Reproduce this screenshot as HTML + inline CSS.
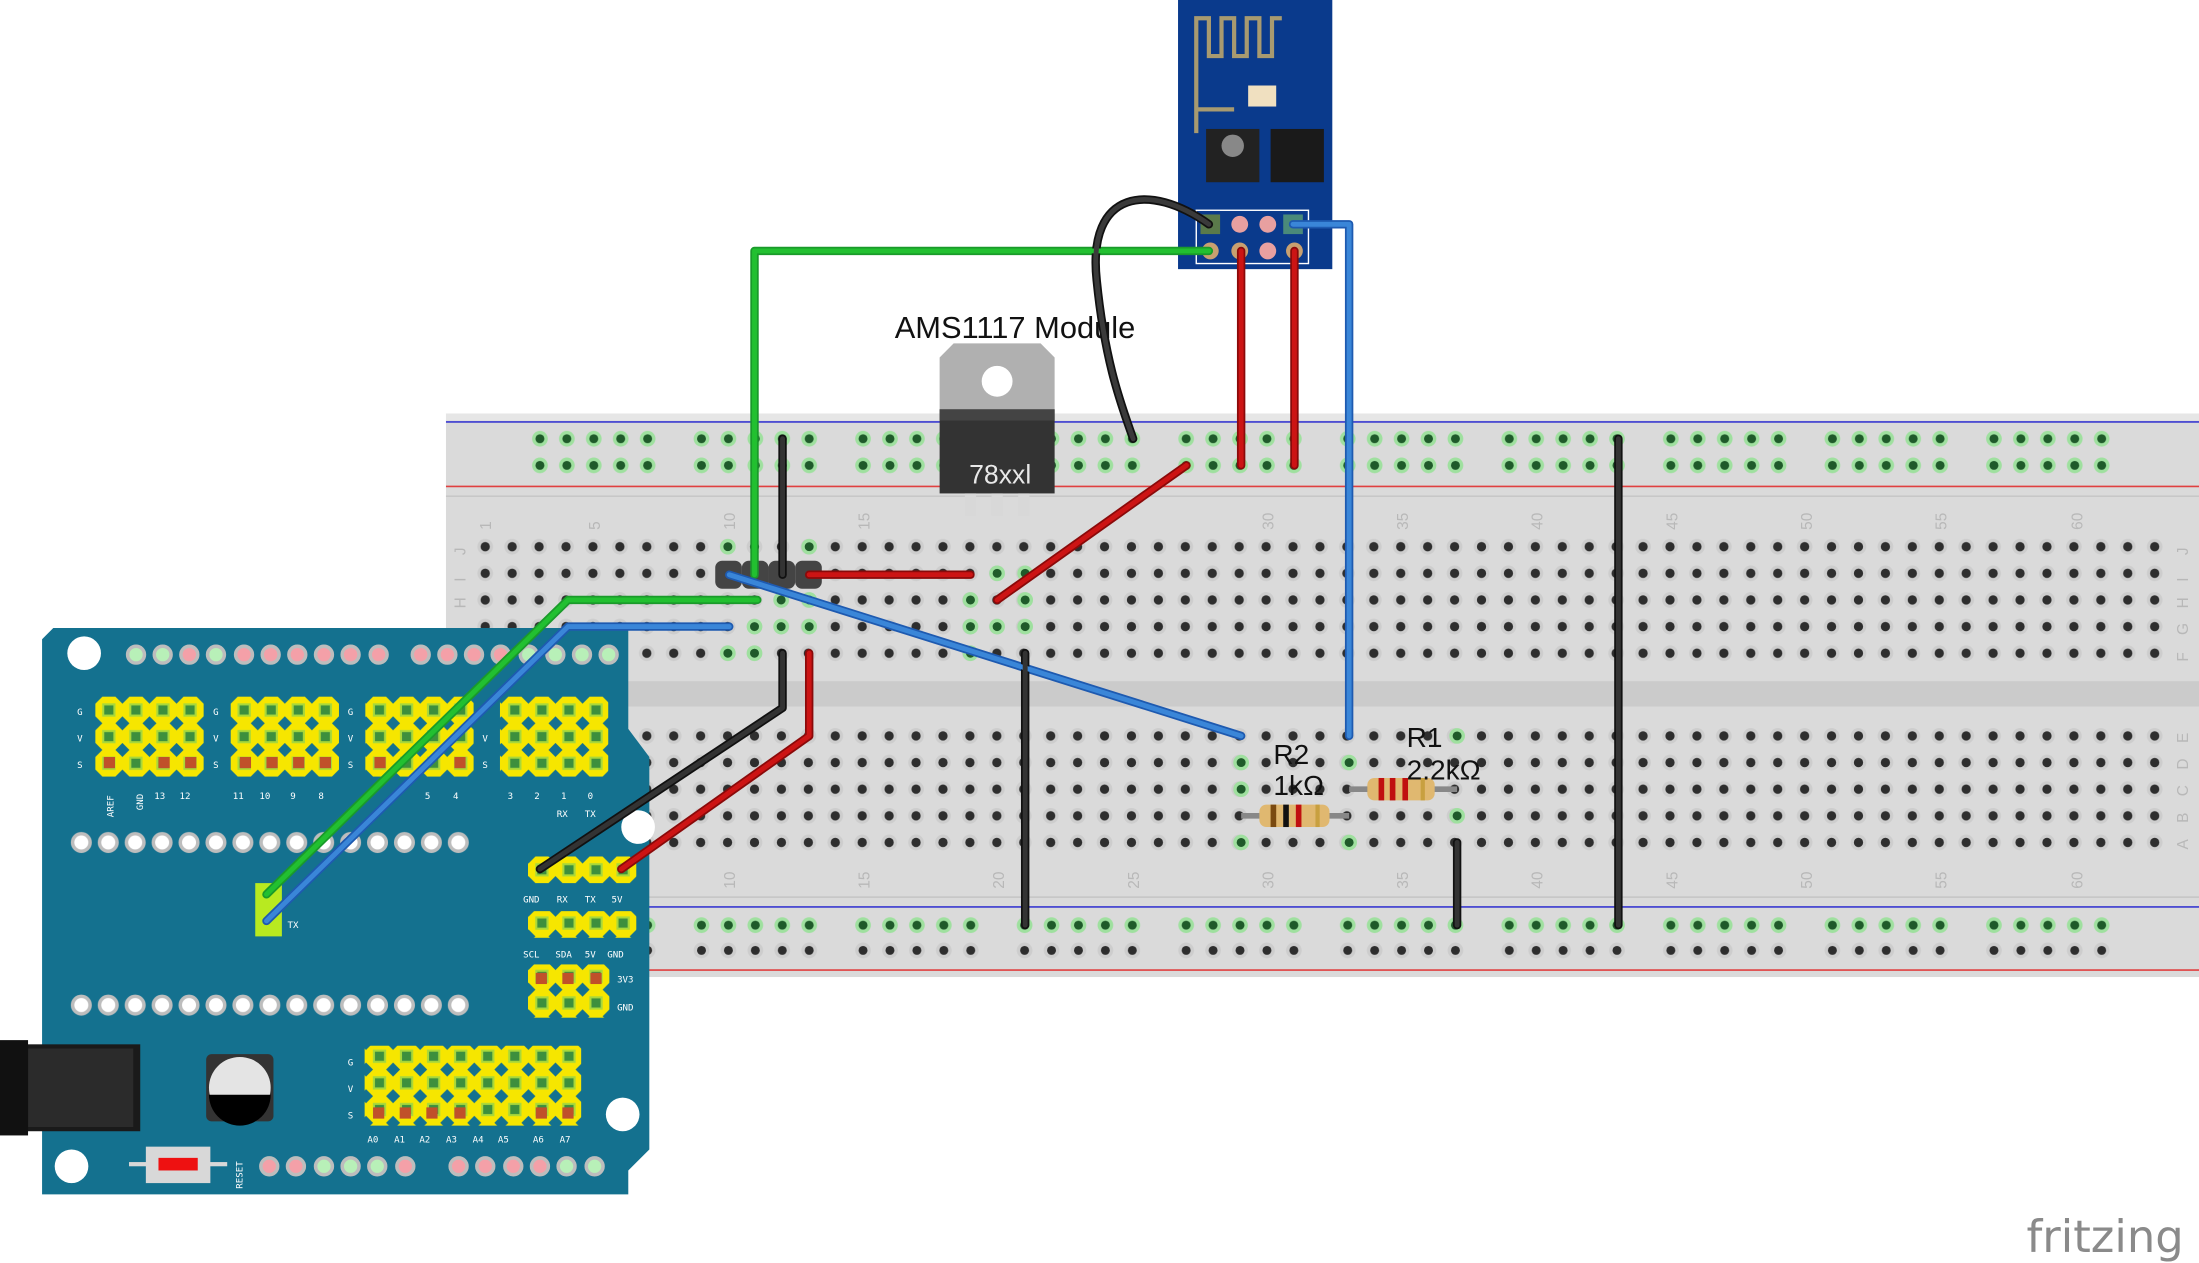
<!DOCTYPE html>
<html><head><meta charset="utf-8"><style>html,body{margin:0;padding:0;background:#fff;overflow:hidden}svg{display:block}</style></head>
<body>
<svg width="2199" height="1263" viewBox="0 0 1568 901" preserveAspectRatio="none" xmlns="http://www.w3.org/2000/svg" font-family="Liberation Sans, sans-serif">
<defs>
<pattern id="h" x="336.4" y="380.5" width="19.2" height="19" patternUnits="userSpaceOnUse">
<circle cx="9.6" cy="9.5" r="5.6" fill="#cdcdcd"/><circle cx="9.6" cy="9.5" r="3.3" fill="#2e2e2e"/></pattern>
<pattern id="hb" x="336.4" y="515.5" width="19.2" height="19" patternUnits="userSpaceOnUse">
<circle cx="9.6" cy="9.5" r="5.6" fill="#cdcdcd"/><circle cx="9.6" cy="9.5" r="3.3" fill="#2e2e2e"/></pattern>
<pattern id="rg" x="375.4" y="303.5" width="115.2" height="19" patternUnits="userSpaceOnUse">
<g fill="#9fe09f"><circle cx="9.6" cy="9.5" r="5.6"/><circle cx="28.8" cy="9.5" r="5.6"/><circle cx="48" cy="9.5" r="5.6"/><circle cx="67.2" cy="9.5" r="5.6"/><circle cx="86.4" cy="9.5" r="5.6"/></g>
<g fill="#1f5a2a"><circle cx="9.6" cy="9.5" r="3.2"/><circle cx="28.8" cy="9.5" r="3.2"/><circle cx="48" cy="9.5" r="3.2"/><circle cx="67.2" cy="9.5" r="3.2"/><circle cx="86.4" cy="9.5" r="3.2"/></g></pattern>
<pattern id="rk" x="375.4" y="668.5" width="115.2" height="19" patternUnits="userSpaceOnUse">
<g fill="#cdcdcd"><circle cx="9.6" cy="9.5" r="5.6"/><circle cx="28.8" cy="9.5" r="5.6"/><circle cx="48" cy="9.5" r="5.6"/><circle cx="67.2" cy="9.5" r="5.6"/><circle cx="86.4" cy="9.5" r="5.6"/></g>
<g fill="#2e2e2e"><circle cx="9.6" cy="9.5" r="3.2"/><circle cx="28.8" cy="9.5" r="3.2"/><circle cx="48" cy="9.5" r="3.2"/><circle cx="67.2" cy="9.5" r="3.2"/><circle cx="86.4" cy="9.5" r="3.2"/></g></pattern>
<pattern id="rg2" x="375.4" y="650.5" width="115.2" height="19" patternUnits="userSpaceOnUse">
<g fill="#9fe09f"><circle cx="9.6" cy="9.5" r="5.6"/><circle cx="28.8" cy="9.5" r="5.6"/><circle cx="48" cy="9.5" r="5.6"/><circle cx="67.2" cy="9.5" r="5.6"/><circle cx="86.4" cy="9.5" r="5.6"/></g>
<g fill="#1f5a2a"><circle cx="9.6" cy="9.5" r="3.2"/><circle cx="28.8" cy="9.5" r="3.2"/><circle cx="48" cy="9.5" r="3.2"/><circle cx="67.2" cy="9.5" r="3.2"/><circle cx="86.4" cy="9.5" r="3.2"/></g></pattern>
<pattern id="y" width="19.3" height="19" patternUnits="userSpaceOnUse" x="68" y="497">
<polygon points="5,0 14.3,0 19.3,5 19.3,14 14.3,19 5,19 0,14 0,5" fill="#f6e600"/><rect x="5.6" y="5.5" width="8" height="8" fill="#3d8f3d" stroke="#a8d83a" stroke-width="1.5"/></pattern>
<pattern id="pw" width="19.2" height="20" patternUnits="userSpaceOnUse" x="48.4" y="591">
<circle cx="9.6" cy="10" r="7.5" fill="#bdbdbd"/><circle cx="9.6" cy="10" r="5" fill="#fff"/></pattern>
<pattern id="pw2" width="19.2" height="20" patternUnits="userSpaceOnUse" x="48.4" y="707">
<circle cx="9.6" cy="10" r="7.5" fill="#bdbdbd"/><circle cx="9.6" cy="10" r="5" fill="#fff"/></pattern>
</defs>

<rect x="318" y="295" width="1250" height="402" fill="#dadada"/>
<rect x="318" y="295" width="1250" height="5" fill="#e6e6e6"/>
<line x1="318" y1="301" x2="1568" y2="301" stroke="#3a3ad0" stroke-width="1.2"/>
<line x1="318" y1="347" x2="1568" y2="347" stroke="#e04040" stroke-width="1.2"/>
<line x1="318" y1="354" x2="1568" y2="354" stroke="#c4c4c4" stroke-width="1"/>
<rect x="318" y="486" width="1250" height="18" fill="#cbcbcb"/>
<line x1="318" y1="640" x2="1568" y2="640" stroke="#c4c4c4" stroke-width="1"/>
<line x1="318" y1="647" x2="1568" y2="647" stroke="#3a3ad0" stroke-width="1.2"/>
<line x1="318" y1="692" x2="1568" y2="692" stroke="#e04040" stroke-width="1.2"/>
<rect x="375" y="303.5" width="1135" height="38" fill="url(#rg)"/>
<rect x="375" y="650.5" width="1135" height="19" fill="url(#rg2)"/>
<rect x="375" y="668.5" width="1135" height="19" fill="url(#rk)"/>
<rect x="336.4" y="380.5" width="1209.6" height="95" fill="url(#h)"/>
<rect x="336.4" y="515.5" width="1209.6" height="95" fill="url(#hb)"/>
<g fill="#b8b8b8" font-size="11">
<text transform="translate(350,378) rotate(-90)">1</text><text transform="translate(428,378) rotate(-90)">5</text>
<text transform="translate(524,378) rotate(-90)">10</text><text transform="translate(620,378) rotate(-90)">15</text>
<text transform="translate(908,378) rotate(-90)">30</text><text transform="translate(1004,378) rotate(-90)">35</text>
<text transform="translate(1100,378) rotate(-90)">40</text><text transform="translate(1196,378) rotate(-90)">45</text>
<text transform="translate(1292,378) rotate(-90)">50</text><text transform="translate(1388,378) rotate(-90)">55</text>
<text transform="translate(1485,378) rotate(-90)">60</text>
<text transform="translate(524,634) rotate(-90)">10</text><text transform="translate(620,634) rotate(-90)">15</text>
<text transform="translate(716,634) rotate(-90)">20</text><text transform="translate(812,634) rotate(-90)">25</text>
<text transform="translate(908,634) rotate(-90)">30</text><text transform="translate(1004,634) rotate(-90)">35</text>
<text transform="translate(1100,634) rotate(-90)">40</text><text transform="translate(1196,634) rotate(-90)">45</text>
<text transform="translate(1292,634) rotate(-90)">50</text><text transform="translate(1388,634) rotate(-90)">55</text>
<text transform="translate(1485,634) rotate(-90)">60</text>
<text transform="translate(1560,530) rotate(-90)">E</text><text transform="translate(1560,549) rotate(-90)">D</text>
<text transform="translate(1560,568) rotate(-90)">C</text><text transform="translate(1560,587) rotate(-90)">B</text>
<text transform="translate(1560,606) rotate(-90)">A</text>
<text transform="translate(1560,396) rotate(-90)">J</text><text transform="translate(1560,415) rotate(-90)">I</text>
<text transform="translate(1560,434) rotate(-90)">H</text><text transform="translate(1560,453) rotate(-90)">G</text>
<text transform="translate(1560,472) rotate(-90)">F</text>
<text transform="translate(332,396) rotate(-90)">J</text><text transform="translate(332,415) rotate(-90)">I</text><text transform="translate(332,434) rotate(-90)">H</text>
</g>
<g fill="#1f5a2a" stroke="#9fe09f" stroke-width="2.4">
<circle cx="519" cy="390" r="4.4"/><circle cx="538" cy="447" r="4.4"/><circle cx="557" cy="447" r="4.4"/><circle cx="577" cy="447" r="4.4"/><circle cx="519" cy="466" r="4.4"/><circle cx="538" cy="466" r="4.4"/><circle cx="557" cy="428" r="4.4"/><circle cx="577" cy="390" r="4.4"/><circle cx="577" cy="428" r="4.4"/>
<circle cx="692" cy="428" r="4.4"/><circle cx="692" cy="447" r="4.4"/><circle cx="711" cy="409" r="4.4"/><circle cx="711" cy="447" r="4.4"/><circle cx="731" cy="409" r="4.4"/><circle cx="731" cy="428" r="4.4"/><circle cx="731" cy="447" r="4.4"/><circle cx="692" cy="466" r="4.4"/>
<circle cx="885" cy="544" r="4.4"/><circle cx="885" cy="563" r="4.4"/><circle cx="885" cy="601" r="4.4"/>
<circle cx="962" cy="544" r="4.4"/><circle cx="962" cy="601" r="4.4"/>
<circle cx="1039" cy="525" r="4.4"/><circle cx="1039" cy="582" r="4.4"/>
</g>

<path d="M38,448 H448 V520 L463,540 V820 L448,835 V852 H30 V456 Z" fill="#14718f"/>
<circle cx="60" cy="466" r="12" fill="#fff"/><circle cx="51" cy="832" r="12" fill="#fff"/>
<circle cx="444" cy="795" r="12" fill="#fff"/><circle cx="455" cy="590" r="12" fill="#fff"/>
<g stroke="#bdbdbd" stroke-width="2.5">
<circle cx="97" cy="467" r="6" fill="#b8f0b8"/><circle cx="116" cy="467" r="6" fill="#b8f0b8"/><circle cx="135" cy="467" r="6" fill="#f4a0a8"/><circle cx="154" cy="467" r="6" fill="#b8f0b8"/>
<circle cx="174" cy="467" r="6" fill="#f4a0a8"/><circle cx="193" cy="467" r="6" fill="#f4a0a8"/><circle cx="212" cy="467" r="6" fill="#f4a0a8"/><circle cx="231" cy="467" r="6" fill="#f4a0a8"/><circle cx="250" cy="467" r="6" fill="#f4a0a8"/><circle cx="270" cy="467" r="6" fill="#f4a0a8"/>
<circle cx="300" cy="467" r="6" fill="#f4a0a8"/><circle cx="319" cy="467" r="6" fill="#f4a0a8"/><circle cx="338" cy="467" r="6" fill="#f4a0a8"/><circle cx="357" cy="467" r="6" fill="#f4a0a8"/><circle cx="377" cy="467" r="6" fill="#b8f0b8"/><circle cx="396" cy="467" r="6" fill="#b8f0b8"/><circle cx="415" cy="467" r="6" fill="#b8f0b8"/><circle cx="434" cy="467" r="6" fill="#b8f0b8"/>
<circle cx="192" cy="832" r="6" fill="#f4a0a8"/><circle cx="211" cy="832" r="6" fill="#f4a0a8"/><circle cx="231" cy="832" r="6" fill="#b8f0b8"/><circle cx="250" cy="832" r="6" fill="#b8f0b8"/><circle cx="269" cy="832" r="6" fill="#b8f0b8"/><circle cx="289" cy="832" r="6" fill="#f4a0a8"/>
<circle cx="327" cy="832" r="6" fill="#f4a0a8"/><circle cx="346" cy="832" r="6" fill="#f4a0a8"/><circle cx="366" cy="832" r="6" fill="#f4a0a8"/><circle cx="385" cy="832" r="6" fill="#f4a0a8"/><circle cx="404" cy="832" r="6" fill="#b8f0b8"/><circle cx="424" cy="832" r="6" fill="#b8f0b8"/>
</g>
<rect x="48.4" y="591" width="288" height="20" fill="url(#pw)"/>
<rect x="48.4" y="707" width="288" height="20" fill="url(#pw2)"/>
<rect x="68" y="497" width="77.2" height="57" fill="url(#y)"/>
<rect x="164.5" y="497" width="77.2" height="57" fill="url(#y)"/>
<rect x="260.5" y="497" width="77.2" height="57" fill="url(#y)"/>
<rect x="356.5" y="497" width="77.2" height="57" fill="url(#y)"/>
<rect x="376.5" y="611" width="77.2" height="19" fill="url(#y)"/>
<rect x="376.5" y="650" width="77.2" height="19" fill="url(#y)"/>
<rect x="376.5" y="688" width="58" height="38" fill="url(#y)"/>
<rect x="260" y="746" width="154.4" height="57" fill="url(#y)"/>
<g fill="#c0502a"><rect x="74" y="540" width="8" height="8"/><rect x="113" y="540" width="8" height="8"/><rect x="132" y="540" width="8" height="8"/><rect x="171" y="540" width="8" height="8"/><rect x="190" y="540" width="8" height="8"/><rect x="209" y="540" width="8" height="8"/><rect x="228" y="540" width="8" height="8"/><rect x="267" y="540" width="8" height="8"/><rect x="324" y="540" width="8" height="8"/>
<rect x="382" y="694" width="8" height="8"/><rect x="401" y="694" width="8" height="8"/><rect x="421" y="694" width="8" height="8"/>
<rect x="266" y="790" width="8" height="8"/><rect x="285" y="790" width="8" height="8"/><rect x="304" y="790" width="8" height="8"/><rect x="324" y="790" width="8" height="8"/><rect x="382" y="790" width="8" height="8"/><rect x="401" y="790" width="8" height="8"/></g>
<rect x="182" y="630" width="19" height="38" fill="#b8ea20"/>
<g fill="#fff" font-size="6.5" font-family="DejaVu Sans Mono, monospace">
<text x="55" y="510">G</text><text x="55" y="529">V</text><text x="55" y="548">S</text>
<text x="152" y="510">G</text><text x="152" y="529">V</text><text x="152" y="548">S</text>
<text x="248" y="510">G</text><text x="248" y="529">V</text><text x="248" y="548">S</text>
<text x="344" y="529">V</text><text x="344" y="548">S</text>
<text x="110" y="570">13</text><text x="128" y="570">12</text><text x="166" y="570">11</text><text x="185" y="570">10</text><text x="207" y="570">9</text><text x="227" y="570">8</text>
<text x="303" y="570">5</text><text x="323" y="570">4</text><text x="362" y="570">3</text><text x="381" y="570">2</text><text x="400" y="570">1</text><text x="419" y="570">0</text>
<text x="397" y="583">RX</text><text x="417" y="583">TX</text>
<text x="205" y="662">TX</text>
<text x="373" y="644">GND</text><text x="397" y="644">RX</text><text x="417" y="644">TX</text><text x="436" y="644">5V</text>
<text x="373" y="683">SCL</text><text x="396" y="683">SDA</text><text x="417" y="683">5V</text><text x="433" y="683">GND</text>
<text x="440" y="701">3V3</text><text x="440" y="721">GND</text>
<text x="248" y="760">G</text><text x="248" y="779">V</text><text x="248" y="798">S</text>
<text x="262" y="815">A0</text><text x="281" y="815">A1</text><text x="299" y="815">A2</text><text x="318" y="815">A3</text><text x="337" y="815">A4</text><text x="355" y="815">A5</text><text x="380" y="815">A6</text><text x="399" y="815">A7</text>
<text transform="translate(81,583) rotate(-90)">AREF</text><text transform="translate(102,578) rotate(-90)">GND</text>
<text transform="translate(173,848) rotate(-90)">RESET</text>
</g>
<rect x="0" y="745" width="100" height="62" fill="#1a1a1a"/><rect x="20" y="748" width="75" height="56" fill="#2b2b2b"/><rect x="0" y="742" width="20" height="68" fill="#111"/>
<rect x="147" y="752" width="48" height="48" rx="4" fill="#333"/><circle cx="171" cy="776" r="22" fill="#e4e4e4"/><path d="M149,781 A22,22 0 0 0 193,781 Z" fill="#000"/>
<rect x="104" y="818" width="46" height="26" fill="#d8d8d8"/><rect x="92" y="829" width="70" height="3" fill="#d8d8d8"/><rect x="113" y="826" width="28" height="9" fill="#ee1111"/>

<rect x="840" y="0" width="110" height="192" fill="#0a3a8c"/>
<path d="M853,95 V13 H862 V40 H871 V13 H880 V40 H889 V13 H898 V40 H907 V13 H914" fill="none" stroke="#a89a70" stroke-width="3"/>
<path d="M853,78 H880" stroke="#a89a70" stroke-width="3"/>
<rect x="890" y="61" width="20" height="15" fill="#f0e0c0"/>
<rect x="860" y="92" width="38" height="38" fill="#222"/><circle cx="879" cy="104" r="8" fill="#888"/>
<rect x="906" y="92" width="38" height="38" fill="#1a1a1a"/>
<rect x="853" y="150" width="80" height="38" fill="none" stroke="#fff" stroke-width="1"/>
<g fill="#c8a070"><rect x="856" y="153" width="14" height="14" fill="#5a7a4a"/><circle cx="884" cy="160" r="6" fill="#e8a0a0"/><circle cx="904" cy="160" r="6" fill="#e8a0a0"/><rect x="915" y="153" width="14" height="14" fill="#4a8a7a"/>
<circle cx="863" cy="179" r="6"/><circle cx="884" cy="179" r="6"/><circle cx="904" cy="179" r="6" fill="#e8a0a0"/><circle cx="923" cy="179" r="6"/></g>

<path d="M670,255 L680,245 H742 L752,255 V292 H670 Z" fill="#b0b0b0"/>
<circle cx="711" cy="272" r="11" fill="#fff"/>
<rect x="670" y="292" width="82" height="60" fill="#333"/><rect x="670" y="292" width="82" height="8" fill="#444"/>
<text x="691" y="345" fill="#e8e8e8" font-size="19">78xxl</text>
<rect x="688" y="352" width="8" height="16" fill="#d8d8d8"/><rect x="707" y="352" width="8" height="16" fill="#d8d8d8"/><rect x="726" y="352" width="8" height="16" fill="#d8d8d8"/>
<text x="638" y="241" font-size="22" fill="#111">AMS1117 Module</text>

<g fill="#444"><rect x="510" y="400" width="19" height="20" rx="5"/><rect x="529" y="400" width="19" height="20" rx="5"/><rect x="548" y="400" width="19" height="20" rx="5"/><rect x="567" y="400" width="19" height="20" rx="5"/></g>

<line x1="885" y1="582" x2="962" y2="582" stroke="#888" stroke-width="4"/>
<rect x="898" y="574" width="50" height="16" rx="5" fill="#e0b870"/><rect x="906" y="574" width="4" height="16" fill="#7a4a10"/><rect x="915" y="574" width="4" height="16" fill="#111"/><rect x="924" y="574" width="4" height="16" fill="#c01010"/><rect x="938" y="574" width="3" height="16" fill="#c8a040"/>
<line x1="962" y1="563" x2="1039" y2="563" stroke="#888" stroke-width="4"/>
<rect x="975" y="555" width="48" height="16" rx="5" fill="#e0b870"/><rect x="983" y="555" width="4" height="16" fill="#c01010"/><rect x="991" y="555" width="4" height="16" fill="#c01010"/><rect x="1000" y="555" width="4" height="16" fill="#c01010"/><rect x="1013" y="555" width="3" height="16" fill="#c8a040"/>
<g font-size="20" fill="#111"><text x="908" y="545">R2</text><text x="908" y="567">1kΩ</text><text x="1003" y="533">R1</text><text x="1003" y="556">2.2kΩ</text></g>

<g fill="none" stroke-linecap="round" stroke-linejoin="round" stroke-width="6">
<path d="M862,179 H538 V410" stroke="#1a9a2a"/>
<path d="M540,428 H405 L190,638" stroke="#1a9a2a"/>
<path d="M520,447 H405 L190,657" stroke="#1e5ab0"/>
<path d="M520,410 L885,525" stroke="#1e5ab0"/>
<path d="M922,160 H962 V525" stroke="#1e5ab0"/>
<path d="M558,313 V410" stroke="#111"/>
<path d="M862,160 C820,130 775,135 782,200 C788,260 800,290 808,313" stroke="#111"/>
<path d="M558,466 V505 L385,620" stroke="#111"/>
<path d="M731,466 V660" stroke="#111"/>
<path d="M1154,313 V660" stroke="#111"/>
<path d="M1039,601 V660" stroke="#111"/>
<path d="M577,410 H692" stroke="#8a0a0a"/>
<path d="M711,428 L846,332" stroke="#8a0a0a"/>
<path d="M885,179 V332" stroke="#8a0a0a"/>
<path d="M923,179 V332" stroke="#8a0a0a"/>
<path d="M577,466 V525 L443,620" stroke="#8a0a0a"/>
</g>
<g fill="none" stroke-linecap="round" stroke-linejoin="round" stroke-width="3.5">
<path d="M862,179 H538 V410" stroke="#22c030"/>
<path d="M540,428 H405 L190,638" stroke="#22c030"/>
<path d="M520,447 H405 L190,657" stroke="#3a86d8"/>
<path d="M520,410 L885,525" stroke="#3a86d8"/>
<path d="M922,160 H962 V525" stroke="#3a86d8"/>
<path d="M558,313 V410" stroke="#333"/>
<path d="M862,160 C820,130 775,135 782,200 C788,260 800,290 808,313" stroke="#3a3a3a"/>
<path d="M558,466 V505 L385,620" stroke="#333"/>
<path d="M731,466 V660" stroke="#333"/>
<path d="M1154,313 V660" stroke="#333"/>
<path d="M1039,601 V660" stroke="#333"/>
<path d="M577,410 H692" stroke="#cc1414"/>
<path d="M711,428 L846,332" stroke="#cc1414"/>
<path d="M885,179 V332" stroke="#cc1414"/>
<path d="M923,179 V332" stroke="#cc1414"/>
<path d="M577,466 V525 L443,620" stroke="#cc1414"/>
</g>
<text x="1445" y="893" font-size="32" fill="#8a8a8a" font-family="DejaVu Sans, sans-serif">fritzing</text>
</svg>
</body></html>
